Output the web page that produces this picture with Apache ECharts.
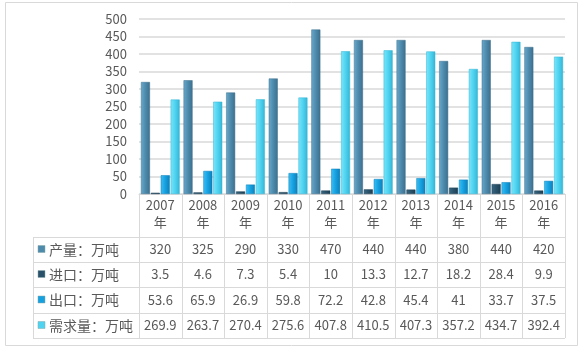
<!DOCTYPE html>
<html>
<head>
<meta charset="utf-8">
<script src="https://cdn.jsdelivr.net/npm/echarts@6/dist/echarts.min.js"></script>
<style>
html,body{margin:0;padding:0;background:#fff;}
#main{width:586px;height:353px;}
</style>
</head>
<body>
<div id="main"></div>
<script>
// 年份
let years = ['2007','2008','2009','2010','2011','2012','2013','2014','2015','2016'];
// 各系列数据（万吨）
let output = [320,325,290,330,470,440,440,380,440,420];
let imports = [3.5,4.6,7.3,5.4,10,13.3,12.7,18.2,28.4,9.9];
let exports = [53.6,65.9,26.9,59.8,72.2,42.8,45.4,41,33.7,37.5];
let demand = [269.9,263.7,270.4,275.6,407.8,410.5,407.3,357.2,434.7,392.4];
let seriesNames = ['产量：万吨','进口：万吨','出口：万吨','需求量：万吨'];
let yTicks = [0,50,100,150,200,250,300,350,400,450,500];

let font = '"Noto Sans CJK SC", sans-serif';
let textColor = '#595959';
let lineColor = '#d9d9d9';
let colors = [
    ['#6aa9cc','#4d8aac','#3d6f8c'],
    ['#3a6883','#29526a','#1c3f52'],
    ['#3cc0f5','#15a0e0','#0d7fb8'],
    ['#7ae6fa','#4fd3f0','#35b4d4']
];
let allData = [output,imports,exports,demand];

// 表格布局
let L = 139, R = 565, top0 = 194;
let rows = [237,262,287,313,338];
let legendLeft = 33;

function grad(c){
    return new echarts.graphic.LinearGradient(0,0,1,0,[
        {offset:0,color:c[0]},{offset:0.5,color:c[1]},{offset:1,color:c[2]}
    ]);
}

let myChart = echarts.init(document.getElementById('main'));

let xAxes = [{
    type:'category', data:years, gridIndex:0, position:'bottom',
    axisLine:{show:true,lineStyle:{color:lineColor}},
    axisTick:{show:false},
    axisLabel:{
        margin:3, color:textColor, fontFamily:font, fontSize:13, lineHeight:17,
        formatter:function(v){return v+'\n年';}
    }
}];
// 数据表的每一行用一条隐藏的类目轴标签来画
allData.forEach(function(arr,i){
    xAxes.push({
        type:'category', data:years, gridIndex:0, position:'bottom',
        axisLine:{show:false}, axisTick:{show:false}, splitLine:{show:false},
        axisLabel:{
            margin:(rows[i]+rows[i+1])/2 - top0, verticalAlign:'middle',
            color:textColor, fontFamily:font, fontSize:13,
            formatter:function(v,idx){return String(arr[idx]);}
        }
    });
});

let graphics = [];
// 外框
graphics.push({type:'rect',shape:{x:5.5,y:2.5,width:572,height:343},style:{fill:null,stroke:'#d9d9d9',lineWidth:1},silent:true});
// 横线
rows.forEach(function(y){
    graphics.push({type:'line',shape:{x1:legendLeft,y1:y+0.5,x2:R,y2:y+0.5},style:{stroke:lineColor,lineWidth:1}});
});
// 竖线
for(let i=0;i<=years.length;i++){
    let x = Math.round(L+(R-L)*i/years.length)+0.5;
    graphics.push({type:'line',shape:{x1:x,y1:top0,x2:x,y2:rows[4]},style:{stroke:lineColor,lineWidth:1}});
}
graphics.push({type:'line',shape:{x1:legendLeft+0.5,y1:rows[0],x2:legendLeft+0.5,y2:rows[4]},style:{stroke:lineColor,lineWidth:1}});
// 图例列
seriesNames.forEach(function(name,i){
    let cy = (rows[i]+rows[i+1])/2;
    graphics.push({type:'rect',shape:{x:38,y:cy-4,width:7,height:7},style:{fill:colors[i][1],stroke:'#8aa',lineWidth:0.5}});
    graphics.push({type:'text',x:49,y:cy,style:{text:name,fill:textColor,font:'14px '+font,verticalAlign:'middle'}});
});

let option = {
    animation:false,
    grid:{left:L,right:586-R,top:19,bottom:353-top0},
    xAxis:xAxes,
    yAxis:{
        type:'value', min:0, max:500, interval:50,
        axisLine:{show:false}, axisTick:{show:false},
        axisLabel:{color:textColor,fontFamily:font,fontSize:13,margin:12},
        splitLine:{lineStyle:{color:lineColor,width:1.5}}
    },
    series:allData.map(function(arr,i){
        return {
            name:seriesNames[i], type:'bar', data:arr,
            barWidth:9, barGap:'10%',
            itemStyle:{color:grad(colors[i]),borderColor:colors[i][2],borderWidth:0.5}
        };
    }),
    graphic:graphics
};
myChart.setOption(option,true);
</script>
</body>
</html>
